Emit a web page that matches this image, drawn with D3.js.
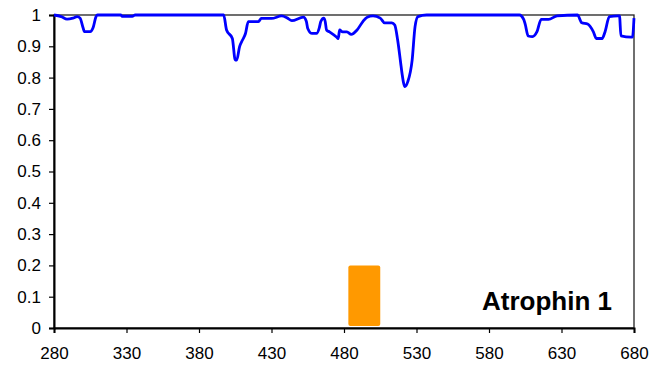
<!DOCTYPE html>
<html>
<head>
<meta charset="utf-8">
<script src="https://cdn.jsdelivr.net/npm/d3@7"></script>
<style>
  html, body { margin: 0; padding: 0; background: #fff; }
  svg { display: block; }
  text { font-family: "Liberation Sans", Arial, sans-serif; }
</style>
</head>
<body>
<svg id="chart" width="661" height="366"></svg>
<script>
const positions = [280,285,289,293,296,298,300,301,305,307,309,310,326,327,334,336,397,399,403,405,406,408,410,412,414,421,423,430,437,441,444,452,454,455,458,461,463,464,466,467,468,470,475,476,477,479,482,485,489,493,496,500,505,508,513,515,517,519,520,522,524,527,529,531,537,601,604,605,607,610,613,616,621,627,641,644,648,652,654,658,660,663,669,670,671,678,679,680];
const values = [1.0,0.995,0.987,0.99,0.995,0.99,0.96,0.947,0.947,0.96,0.995,1.0,1.0,0.996,0.996,1.0,1.0,0.952,0.925,0.856,0.856,0.899,0.92,0.94,0.979,0.979,0.989,0.989,0.997,0.99,0.982,0.993,0.98,0.957,0.941,0.941,0.96,0.979,0.99,0.98,0.952,0.946,0.929,0.925,0.952,0.946,0.946,0.938,0.952,0.979,0.993,0.997,0.99,0.975,0.975,0.968,0.92,0.85,0.814,0.771,0.787,0.856,0.963,0.995,1.0,1.0,0.985,0.97,0.933,0.931,0.946,0.986,0.986,0.997,1.0,0.975,0.971,0.946,0.925,0.925,0.946,0.995,0.997,0.997,0.933,0.929,0.93,0.99];
const regionStart = [483];
const regionEnd = [505];
const regionValue = [0.2];
const xTicks = [280,330,380,430,480,530,580,630,680];
const yTicks = [0,0.1,0.2,0.3,0.4,0.5,0.6,0.7,0.8,0.9,1];
const label = "Atrophin 1";

const W = 661, H = 366;
const m = {left: 54, right: 27, top: 15, bottom: 38};
const svg = d3.select("#chart");
const x = d3.scaleLinear().domain([280, 680]).range([m.left, W - m.right]);
const y = d3.scaleLinear().domain([0, 1]).range([H - m.bottom, m.top]);

// frame
svg.append("rect")
  .attr("x", x(280)).attr("y", y(1))
  .attr("width", x(680) - x(280)).attr("height", y(0) - y(1))
  .attr("fill", "none").attr("stroke", "#222").attr("stroke-width", 1.3);

// axes
const yAxis = svg.append("g").attr("transform", `translate(${m.left},0)`)
  .call(d3.axisLeft(y).tickValues(yTicks).tickSize(5).tickPadding(8)
    .tickFormat(d => d === 0 ? "0" : d === 1 ? "1" : d3.format(".1f")(d)));
const xAxis = svg.append("g").attr("transform", `translate(0,${H - m.bottom})`)
  .call(d3.axisBottom(x).tickValues(xTicks).tickSize(5).tickPadding(14)
    .tickFormat(d3.format("d")));
[yAxis, xAxis].forEach(g => {
  g.attr("font-family", "'Liberation Sans', Arial, sans-serif").attr("font-size", 17);
  g.select(".domain").attr("stroke", "#000").attr("stroke-width", 2);
  g.selectAll(".tick line").attr("stroke", "#000").attr("stroke-width", 1.2);
  g.selectAll(".tick text").attr("fill", "#000");
});

// orange region bar
svg.selectAll("rect.region").data(regionStart).enter().append("rect")
  .attr("class", "region")
  .attr("x", (d, i) => x(d))
  .attr("y", (d, i) => y(regionValue[i]))
  .attr("width", (d, i) => x(regionEnd[i]) - x(d))
  .attr("height", (d, i) => y(0) - y(regionValue[i]) - 2)
  .attr("rx", 2).attr("fill", "#FF9900");

// line
const pts = positions.map((p, i) => [p, values[i]]);
svg.append("path").datum(pts)
  .attr("d", d3.line().x(d => x(d[0])).y(d => y(d[1])).curve(d3.curveMonotoneX))
  .attr("fill", "none").attr("stroke", "#0000FF").attr("stroke-width", 2.8)
  .attr("stroke-linejoin", "round");

// label
svg.append("text")
  .attr("x", 612).attr("y", 310)
  .attr("text-anchor", "end")
  .style("font-size", "26px").style("font-weight", "bold")
  .text(label);
</script>
</body>
</html>
